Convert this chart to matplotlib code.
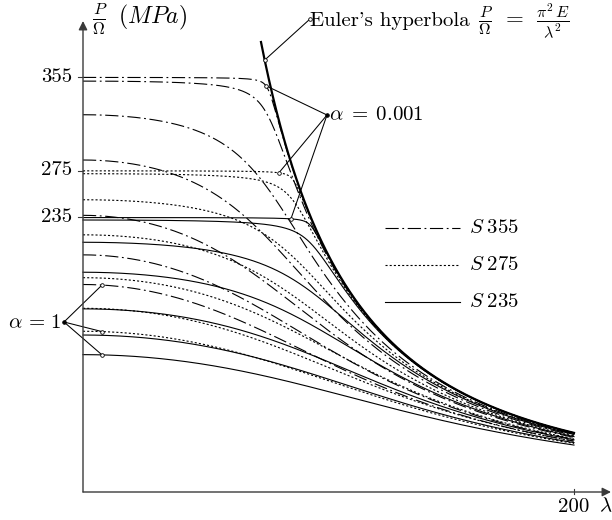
import numpy as np
import matplotlib
matplotlib.use('Agg')
import matplotlib.pyplot as plt

plt.rcParams['mathtext.fontset'] = 'cm'
plt.rcParams['font.family'] = ['cmr10', 'DejaVu Serif']
plt.rcParams['axes.unicode_minus'] = False
plt.rcParams['lines.scale_dashes'] = False

# ---------------- data ----------------
steel_labels = [r'$S\;355$', r'$S\;275$', r'$S\;235$']
yield_stress = [355, 275, 235]                     # MPa
alphas = [0.001, 0.01, 0.1, 0.25, 0.5, 0.75, 1.0]  # imperfection factors
E_modulus = 205000                                 # MPa
lambda_max = 200
euler_lambda_start = 72.5
y_tick_values = [355, 275, 235]
x_tick_values = [200]

# ---------------- styles ----------------
dash_styles = [(0, (9.5, 2.6, 1.3, 2.6)), (0, (1.5, 1.5)), '-']
line_w = 0.8
axis_col = '#3a3a3a'
fs = 15

# pixel <-> data mapping (figure 612x520 px)
KX, KY, X0, Y0 = 2.455, 1.169, 83.0, 492.0
def lx(px): return (px - X0) / KX
def sy(py): return (Y0 - py) / KY

def sigma_euler(lam):
    return np.pi ** 2 * E_modulus / lam ** 2

def buckling(lam, fy, a):
    lam = np.asarray(lam, dtype=float)
    inv = lam ** 2 / (np.pi ** 2 * E_modulus)
    b = fy * inv + 1 + a
    return 2 * fy / (b + np.sqrt(b * b - 4 * fy * inv))

fig = plt.figure(figsize=(6.12, 5.2), dpi=100)
ax = fig.add_axes([0, 0, 1, 1])
ax.set_xlim(lx(0), lx(612))
ax.set_ylim(sy(520), sy(0))
ax.axis('off')

lam = np.linspace(0, lambda_max, 800)
for fy, ls in zip(yield_stress, dash_styles):
    for a in alphas:
        ax.plot(lam, buckling(lam, fy, a), color='k', lw=line_w, ls=ls)

# Euler hyperbola
lam_e = np.linspace(euler_lambda_start, lambda_max, 400)
ax.plot(lam_e, sigma_euler(lam_e), color='k', lw=1.6)

# axes with arrows
ax.annotate('', xy=(0, sy(21)), xytext=(0, 0),
            arrowprops=dict(arrowstyle='-|>', color=axis_col, lw=1.0,
                            mutation_scale=13, shrinkA=0, shrinkB=0))
ax.annotate('', xy=(lx(611), 0), xytext=(0, 0),
            arrowprops=dict(arrowstyle='-|>', color=axis_col, lw=1.0,
                            mutation_scale=13, shrinkA=0, shrinkB=0))

# ticks and tick labels
for v in y_tick_values:
    ax.plot([lx(78), 0], [v, v], color=axis_col, lw=0.8)
    ax.text(lx(72.5), v, str(v), ha='right', va='center', fontsize=fs)
for v in x_tick_values:
    ax.plot([v, v], [sy(494), sy(489)], color=axis_col, lw=0.8)
    ax.text(v, sy(507), str(v), ha='center', va='center', fontsize=fs)
ax.text(lx(606), sy(506), r'$\lambda$', ha='center', va='center', fontsize=fs)

# axis label
ax.text(lx(92), sy(19), r'$\frac{P}{\Omega}\;\;(MPa)$', ha='left', va='center', fontsize=17)

# legend
leg_y = [228, 265, 302]
for lab, ls, py in zip(steel_labels, dash_styles, leg_y):
    ax.plot([lx(385), lx(460)], [sy(py), sy(py)], color='k', lw=line_w, ls=ls)
    ax.text(lx(469), sy(py), lab, ha='left', va='center', fontsize=fs)

def pointer(hub, targets, hub_filled=False):
    for t in targets:
        ax.plot([hub[0], t[0]], [hub[1], t[1]], color='k', lw=0.75)
        ax.plot(t[0], t[1], 'o', ms=2.6, mfc='white', mec='k', mew=0.6)
    ax.plot(hub[0], hub[1], 'o', ms=2.6, mfc='k' if hub_filled else 'white', mec='k', mew=0.6)

# Euler label
euler_ptr_lambda = 74.0
pointer((lx(310), sy(19)), [(euler_ptr_lambda, sigma_euler(euler_ptr_lambda))])
ax.text(lx(310), sy(21), "Euler's hyperbola", ha='left', va='center', fontsize=fs)
ax.text(lx(478), sy(22), r'$\frac{P}{\Omega}\;\,=\;\,\frac{\pi^2\,E}{\lambda^2}$',
        ha='left', va='center', fontsize=16.5)

# alpha = 0.001 label
a001_lambdas = [74.5, 79.8, 84.7]
pointer((lx(327), sy(115)),
        [(l, buckling(l, fy, alphas[0])) for l, fy in zip(a001_lambdas, yield_stress)],
        hub_filled=True)
ax.text(lx(329), sy(115), r'$\alpha\;=\;0.001$', ha='left', va='center', fontsize=fs)

# alpha = 1 label
a1_lambda = lx(102)
pointer((lx(64), sy(322)),
        [(a1_lambda, buckling(a1_lambda, fy, alphas[-1])) for fy in yield_stress],
        hub_filled=True)
ax.text(lx(62), sy(323), r'$\alpha\,=\,1$', ha='right', va='center', fontsize=fs)

fig.savefig('out.png', dpi=100)
